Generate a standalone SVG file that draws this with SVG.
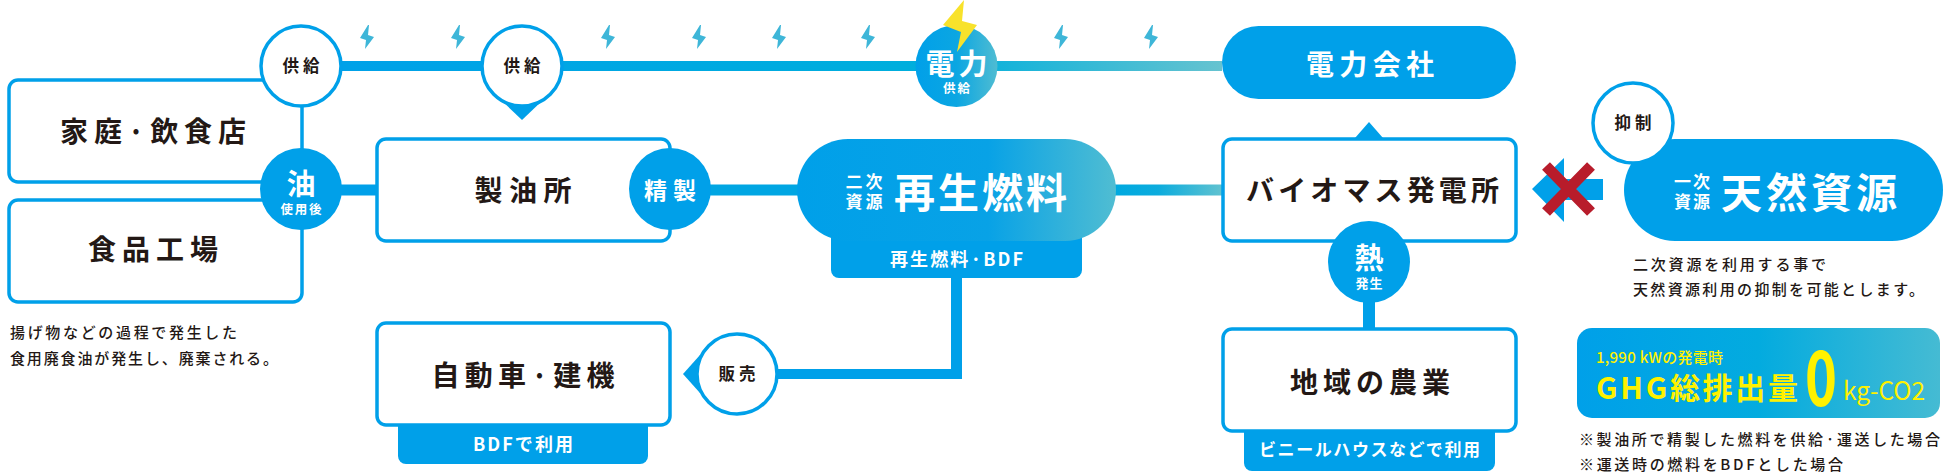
<svg xmlns="http://www.w3.org/2000/svg" width="1950" height="474" viewBox="0 0 1950 474">
<style>
text{font-family:"Noto Sans CJK JP","Noto Sans",sans-serif;font-weight:700;text-anchor:middle;dominant-baseline:central;fill:#231815}
.w{fill:#fff}
.y{fill:#fff100}
.s{text-anchor:start;font-weight:500}
.box{fill:#fff;stroke:#00a0e9;stroke-width:3.5}
.cw{fill:#fff;stroke:#00a0e9;stroke-width:3.5}
.cb{fill:#00a0e9}
.bolt{fill:#3eb6d8}
</style>
<defs>
<linearGradient id="gTop" gradientUnits="userSpaceOnUse" x1="300" y1="0" x2="1222" y2="0"><stop offset="0" stop-color="#00a0e9"/><stop offset=".7" stop-color="#00afdc"/><stop offset="1" stop-color="#66c3d0"/></linearGradient>
<linearGradient id="gMid" gradientUnits="userSpaceOnUse" x1="1116" y1="0" x2="1222" y2="0"><stop offset="0" stop-color="#00a9e0"/><stop offset=".4" stop-color="#0cacdd"/><stop offset="1" stop-color="#60c2d0"/></linearGradient>
<linearGradient id="gPill"><stop offset="0" stop-color="#00a0e9"/><stop offset=".6" stop-color="#08a2e6"/><stop offset="1" stop-color="#50bdd2"/></linearGradient>
<linearGradient id="gDen"><stop offset="0" stop-color="#00a0e9"/><stop offset=".5" stop-color="#0ba6e2"/><stop offset="1" stop-color="#4fbcd2"/></linearGradient>
<linearGradient id="gGhg"><stop offset="0" stop-color="#00a0e9"/><stop offset=".5" stop-color="#03abdf"/><stop offset="1" stop-color="#45bbd3"/></linearGradient>
<polygon id="b" class="bolt" points="1,-12 -7,1 -1,3 -2,12 7,0 1,-2 2,-12"/>
</defs>

<g id="connectors">
<rect x="300" y="61" width="922" height="10" fill="url(#gTop)"/>
<rect x="340" y="184.500" width="40" height="11" fill="#00a0e9"/>
<rect x="705" y="184.500" width="95" height="11" fill="#00a6e3"/>
<rect x="1114" y="184.500" width="110" height="11" fill="url(#gMid)"/>
<path d="M951 276V369H770V379H962V276Z" fill="#00a0e9"/>
<rect x="1363" y="300" width="12" height="30" fill="#00a0e9"/>
<polygon points="500,99 544,99 522,120" fill="#00a0e9"/>
<polygon points="683,374 700,355 700,393" fill="#00a0e9"/>
<polygon points="1355,138 1383,138 1369,122" fill="#00a0e9"/>
</g>

<g id="bolts">
<use href="#b" x="367" y="37"/><use href="#b" x="458" y="37"/><use href="#b" x="608" y="37"/><use href="#b" x="699" y="37"/><use href="#b" x="779" y="37"/><use href="#b" x="868" y="37"/><use href="#b" x="1061" y="37"/><use href="#b" x="1151" y="37"/>
</g>

<g id="home">
<rect class="box" x="9" y="80" width="293" height="102" rx="9"/>
<text x="153" y="130" font-size="28" textLength="186">家庭·飲食店</text>
</g>
<g id="factory">
<rect class="box" x="9" y="200" width="293" height="102" rx="9"/>
<text x="153" y="248" font-size="28" textLength="130">食品工場</text>
</g>
<g id="note-oil">
<text class="s" x="10" y="331" font-size="15" textLength="227">揚げ物などの過程で発生した</text>
<text class="s" x="10" y="357" font-size="15" textLength="268">食用廃食油が発生し、廃棄される。</text>
</g>
<g id="supply1">
<circle class="cw" cx="301" cy="66" r="40"/>
<text x="301" y="65" font-size="16.500" textLength="37">供給</text>
</g>
<g id="supply2">
<circle class="cw" cx="522" cy="66" r="40"/>
<text x="522" y="65" font-size="16.500" textLength="37">供給</text>
</g>
<g id="oil">
<circle class="cb" cx="301" cy="189" r="41"/>
<text class="w" x="301" y="182" font-size="29">油</text>
<text class="w" x="301" y="208" font-size="12.500" textLength="41">使用後</text>
</g>
<g id="refinery">
<rect class="box" x="377" y="139" width="293" height="102" rx="9"/>
<text x="523" y="189" font-size="28" textLength="97">製油所</text>
</g>
<g id="refine">
<circle class="cb" cx="670" cy="189" r="41"/>
<text class="w" x="670" y="189" font-size="23" textLength="52">精製</text>
</g>
<g id="car">
<path class="cb" d="M398 424H648V456a8 8 0 0 1-8 8H406a8 8 0 0 1-8-8Z"/>
<rect class="box" x="377" y="323" width="293" height="102" rx="9"/>
<text x="523" y="374" font-size="28" textLength="183">自動車·建機</text>
<text class="w" x="523" y="443" font-size="18" textLength="100">BDFで利用</text>
</g>
<g id="sales">
<circle class="cw" cx="737" cy="374" r="40"/>
<text x="737" y="373" font-size="16.500" textLength="37">販売</text>
</g>
<g id="power">
<circle cx="956.500" cy="66" r="41" fill="url(#gDen)"/>
<polygon points="964,0 943,25 961,32 957,52 977,25 962,21" fill="#f8e22b"/>
<text class="w" x="956.500" y="62" font-size="29" textLength="62">電力</text>
<text class="w" x="956.500" y="87" font-size="12.500" textLength="27">供給</text>
</g>
<g id="power-company">
<rect class="cb" x="1222" y="26" width="294" height="73" rx="36.500"/>
<text class="w" x="1370" y="63" font-size="28" textLength="128">電力会社</text>
</g>
<g id="renewable">
<path class="cb" d="M831 235H1082V270a8 8 0 0 1-8 8H839a8 8 0 0 1-8-8Z"/>
<rect x="797" y="139" width="319" height="102" rx="51" fill="url(#gPill)"/>
<text class="w" x="864" y="180" font-size="17" textLength="37">二次</text>
<text class="w" x="864" y="200" font-size="17" textLength="37">資源</text>
<text class="w" x="980.500" y="190" font-size="41" textLength="173">再生燃料</text>
<text class="w" x="956.500" y="258" font-size="18" textLength="133">再生燃料·BDF</text>
</g>
<g id="biomass">
<rect class="box" x="1223" y="139" width="293" height="102" rx="9"/>
<text x="1372.500" y="189" font-size="28" textLength="253">バイオマス発電所</text>
</g>
<g id="heat">
<circle class="cb" cx="1369" cy="262" r="41"/>
<text class="w" x="1369" y="256" font-size="29">熱</text>
<text class="w" x="1369" y="282" font-size="13" textLength="27">発生</text>
</g>
<g id="agri">
<path class="cb" d="M1244 430H1495V463a8 8 0 0 1-8 8H1252a8 8 0 0 1-8-8Z"/>
<rect class="box" x="1223" y="329" width="293" height="102" rx="9"/>
<text x="1370" y="381" font-size="28" textLength="160">地域の農業</text>
<text class="w" x="1369.500" y="448" font-size="17" textLength="221">ビニールハウスなどで利用</text>
</g>
<g id="block">
<path class="cb" d="M1532 189L1564 158V179H1603V200H1564V222Z"/>
<path d="M1546 166L1591 212M1591 166L1546 212" stroke="#b81c2b" stroke-width="11" fill="none"/>
</g>
<g id="natural">
<rect class="cb" x="1624" y="139" width="319" height="102" rx="51"/>
<text class="w" x="1692" y="180" font-size="17" textLength="36">一次</text>
<text class="w" x="1692" y="200" font-size="17" textLength="36">資源</text>
<text class="w" x="1809" y="190" font-size="41" textLength="176">天然資源</text>
</g>
<g id="suppress">
<circle class="cw" cx="1633" cy="123" r="40"/>
<text x="1633" y="122" font-size="16.500" textLength="37">抑制</text>
</g>
<g id="note-natural">
<text class="s" x="1633" y="263" font-size="15" textLength="193">二次資源を利用する事で</text>
<text class="s" x="1633" y="288" font-size="15" textLength="291">天然資源利用の抑制を可能とします。</text>
</g>
<g id="ghg">
<rect x="1577" y="328" width="363" height="90" rx="15" fill="url(#gGhg)"/>
<text class="y s" x="1596" y="356" font-size="15" textLength="127">1,990 kWの発電時</text>
<text class="y s" x="1596" y="386" font-size="30" style="font-weight:700" textLength="202">GHG総排出量</text>
<text class="y s" x="1805" y="373" font-size="76" style="font-weight:700" textLength="32" lengthAdjust="spacingAndGlyphs">0</text>
<text class="y s" x="1843" y="389" font-size="25" style="font-weight:400" textLength="82" lengthAdjust="spacingAndGlyphs">kg-CO2</text>
</g>
<g id="note-ghg">
<text class="s" x="1579" y="438" font-size="15" textLength="361">※製油所で精製した燃料を供給·運送した場合</text>
<text class="s" x="1579" y="463" font-size="15" textLength="264">※運送時の燃料をBDFとした場合</text>
</g>
</svg>
